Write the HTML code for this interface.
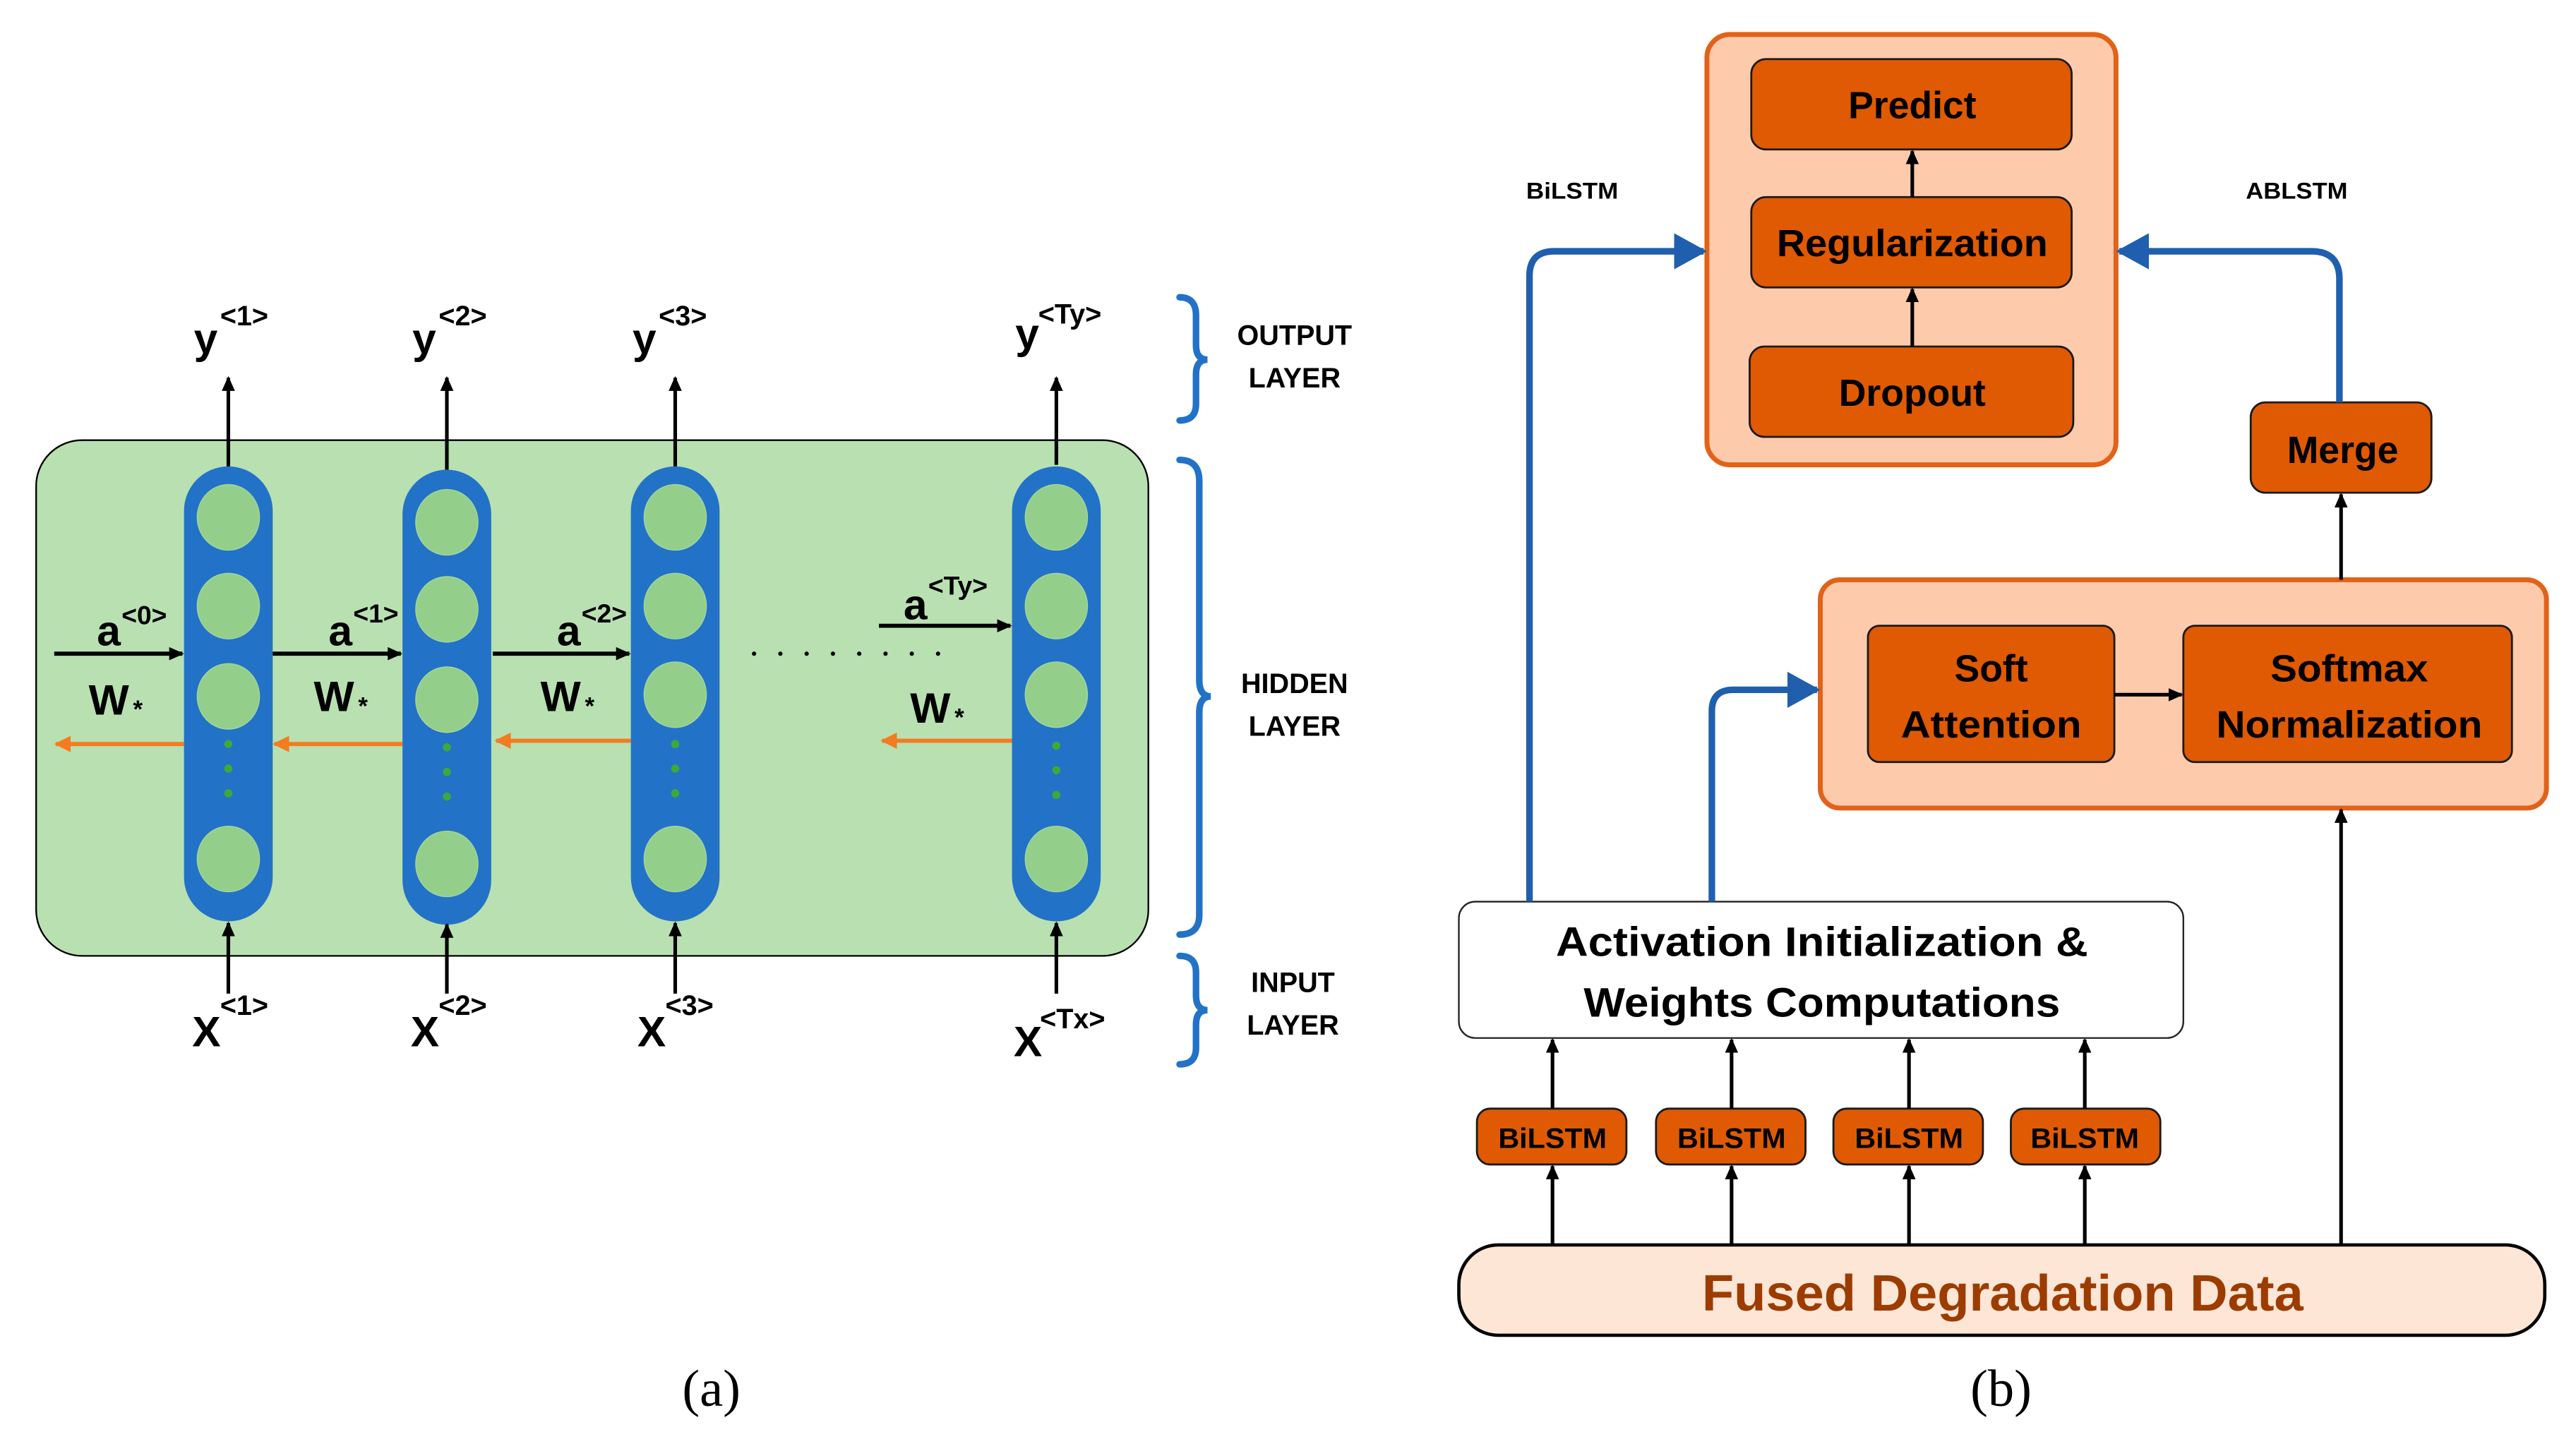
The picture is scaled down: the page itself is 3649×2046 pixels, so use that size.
<!DOCTYPE html>
<html><head><meta charset="utf-8"><style>
html,body{margin:0;padding:0;background:#fff;}
svg{display:block;}
text{font-family:"Liberation Sans",sans-serif;font-weight:bold;}
</style></head><body>
<svg width="3649" height="2046" viewBox="0 0 1568 879.2" preserveAspectRatio="none" xmlns="http://www.w3.org/2000/svg">
<defs>
<marker id="ab" markerWidth="10" markerHeight="10" refX="8" refY="5" orient="auto" markerUnits="userSpaceOnUse"><path d="M0,1 L9,5 L0,9 z" fill="#000"/></marker>
<marker id="ao" markerWidth="12" markerHeight="12" refX="9" refY="6" orient="auto" markerUnits="userSpaceOnUse"><path d="M0,1 L10,6 L0,11 z" fill="#f47b20"/></marker>
<marker id="abl" markerWidth="22" markerHeight="22" refX="18" refY="11" orient="auto" markerUnits="userSpaceOnUse"><path d="M0,0 L20,11 L0,22 z" fill="#1f5fae"/></marker>
</defs>

<rect x="22" y="268" width="677" height="314" rx="28" fill="#b9e0b1" stroke="#000" stroke-width="1"/>
<g>
<rect x="112" y="284" width="54" height="277" rx="27" fill="#2272c8"/>
<rect x="245" y="286" width="54" height="277" rx="27" fill="#2272c8"/>
<rect x="384" y="284" width="54" height="277" rx="27" fill="#2272c8"/>
<rect x="616" y="284" width="54" height="277" rx="27" fill="#2272c8"/>
</g>
<g fill="#93cf8b" stroke="#a8d8a0" stroke-width="0.5">
<ellipse cx="139" cy="315" rx="19" ry="20"/><ellipse cx="139" cy="369" rx="19" ry="20"/><ellipse cx="139" cy="424" rx="19" ry="20"/><ellipse cx="139" cy="523" rx="19" ry="20"/>
<ellipse cx="272" cy="318" rx="19" ry="20"/><ellipse cx="272" cy="371" rx="19" ry="20"/><ellipse cx="272" cy="426" rx="19" ry="20"/><ellipse cx="272" cy="526" rx="19" ry="20"/>
<ellipse cx="411" cy="315" rx="19" ry="20"/><ellipse cx="411" cy="369" rx="19" ry="20"/><ellipse cx="411" cy="423" rx="19" ry="20"/><ellipse cx="411" cy="523" rx="19" ry="20"/>
<ellipse cx="643" cy="315" rx="19" ry="20"/><ellipse cx="643" cy="369" rx="19" ry="20"/><ellipse cx="643" cy="423" rx="19" ry="20"/><ellipse cx="643" cy="523" rx="19" ry="20"/>
</g>
<g fill="#3ea83a">
<circle cx="139" cy="453" r="2.5"/><circle cx="139" cy="468" r="2.5"/><circle cx="139" cy="483" r="2.5"/>
<circle cx="272" cy="455" r="2.5"/><circle cx="272" cy="470" r="2.5"/><circle cx="272" cy="485" r="2.5"/>
<circle cx="411" cy="453" r="2.5"/><circle cx="411" cy="468" r="2.5"/><circle cx="411" cy="483" r="2.5"/>
<circle cx="643" cy="454" r="2.5"/><circle cx="643" cy="469" r="2.5"/><circle cx="643" cy="484" r="2.5"/>
</g>
<g stroke="#000" stroke-width="2.2" marker-end="url(#ab)">
<line x1="139" y1="284" x2="139" y2="230"/>
<line x1="272" y1="286" x2="272" y2="230"/>
<line x1="411" y1="284" x2="411" y2="230"/>
<line x1="643" y1="283" x2="643" y2="230"/>
<line x1="139" y1="605" x2="139" y2="562"/>
<line x1="272" y1="605" x2="272" y2="563"/>
<line x1="411" y1="605" x2="411" y2="562"/>
<line x1="643" y1="605" x2="643" y2="562"/>
</g>
<g stroke="#000" stroke-width="2.5" marker-end="url(#ab)">
<line x1="33" y1="398" x2="111" y2="398"/>
<line x1="166" y1="398" x2="244" y2="398"/>
<line x1="300" y1="398" x2="383" y2="398"/>
<line x1="535" y1="381" x2="615" y2="381"/>
</g>
<g stroke="#f47b20" stroke-width="2.5" marker-end="url(#ao)">
<line x1="112" y1="453" x2="34" y2="453"/>
<line x1="245" y1="453" x2="167" y2="453"/>
<line x1="384" y1="451" x2="302" y2="451"/>
<line x1="616" y1="451" x2="537" y2="451"/>
</g>
<g fill="#000">
<circle cx="459" cy="398" r="1.3"/><circle cx="475" cy="398" r="1.3"/><circle cx="491" cy="398" r="1.3"/><circle cx="507" cy="398" r="1.3"/><circle cx="523" cy="398" r="1.3"/><circle cx="539" cy="398" r="1.3"/><circle cx="555" cy="398" r="1.3"/><circle cx="571" cy="398" r="1.3"/>
</g>
<g font-size="26" fill="#000">
<text x="118" y="215">y</text><text x="134" y="198" font-size="17">&lt;1&gt;</text>
<text x="251" y="215">y</text><text x="267" y="198" font-size="17">&lt;2&gt;</text>
<text x="385" y="215">y</text><text x="401" y="198" font-size="17">&lt;3&gt;</text>
<text x="618" y="212">y</text><text x="632" y="197" font-size="17">&lt;Ty&gt;</text>
<text x="117" y="637">X</text><text x="134" y="618" font-size="17">&lt;1&gt;</text>
<text x="250" y="637">X</text><text x="267" y="618" font-size="17">&lt;2&gt;</text>
<text x="388" y="637">X</text><text x="405" y="618" font-size="17">&lt;3&gt;</text>
<text x="617" y="643">X</text><text x="633" y="626" font-size="17">&lt;Tx&gt;</text>
<text x="59" y="393">a</text><text x="74" y="380" font-size="16">&lt;0&gt;</text>
<text x="200" y="393">a</text><text x="215" y="379" font-size="16">&lt;1&gt;</text>
<text x="339" y="393">a</text><text x="354" y="379" font-size="16">&lt;2&gt;</text>
<text x="550" y="377">a</text><text x="565" y="362" font-size="16">&lt;Ty&gt;</text>
<text x="54" y="435">W</text><text x="81" y="437" font-size="15">*</text>
<text x="191" y="433">W</text><text x="218" y="435" font-size="15">*</text>
<text x="329" y="433">W</text><text x="356" y="435" font-size="15">*</text>
<text x="554" y="440">W</text><text x="581" y="442" font-size="15">*</text>
</g>
<g fill="none" stroke="#2272c8" stroke-width="4" stroke-linecap="round">
<path d="M718,181 Q728,181 728,192 L728,210 Q728,219 735,219 Q728,219 728,228 L728,246 Q728,256 718,256"/>
<path d="M718,280 Q730,280 730,293 L730,414 Q730,424 737,424 Q730,424 730,434 L730,557 Q730,569 718,569"/>
<path d="M718,582 Q728,582 728,592 L728,606 Q728,615 735,615 Q728,615 728,624 L728,638 Q728,648 718,648"/>
</g>
<g font-size="17" fill="#000" text-anchor="middle">
<text x="788" y="210">OUTPUT</text><text x="788" y="236">LAYER</text>
<text x="788" y="422">HIDDEN</text><text x="788" y="448">LAYER</text>
<text x="787" y="604">INPUT</text><text x="787" y="630">LAYER</text>
</g>
<text x="433" y="856" font-size="32" text-anchor="middle" style="font-family:'Liberation Serif',serif;font-weight:normal">(a)</text>
<text x="1218" y="856" font-size="32" text-anchor="middle" style="font-family:'Liberation Serif',serif;font-weight:normal">(b)</text>

<rect x="1039" y="21" width="249" height="262" rx="14" fill="#fdcbab" stroke="#e2621a" stroke-width="3"/>
<g fill="#df5a03" stroke="#1a1a1a" stroke-width="1.2">
<rect x="1066" y="36" width="195" height="55" rx="9"/>
<rect x="1066" y="120" width="195" height="55" rx="9"/>
<rect x="1065" y="211" width="197" height="55" rx="9"/>
<rect x="1370" y="245" width="110" height="55" rx="9"/>
<rect x="899" y="675" width="91" height="34" rx="8"/>
<rect x="1008" y="675" width="91" height="34" rx="8"/>
<rect x="1116" y="675" width="91" height="34" rx="8"/>
<rect x="1224" y="675" width="91" height="34" rx="8"/>
</g>
<rect x="1108" y="353" width="442" height="139" rx="12" fill="#fdcbab" stroke="#e2621a" stroke-width="3"/>
<g fill="#df5a03" stroke="#1a1a1a" stroke-width="1.2">
<rect x="1137" y="381" width="150" height="83" rx="7"/>
<rect x="1329" y="381" width="200" height="83" rx="7"/>
</g>
<rect x="888" y="549" width="441" height="83" rx="10" fill="#fff" stroke="#222" stroke-width="1"/>
<rect x="888" y="758" width="661" height="55" rx="24" fill="#fde6d6" stroke="#000" stroke-width="2"/>

<g stroke="#000" stroke-width="2.2" marker-end="url(#ab)">
<line x1="1164" y1="211" x2="1164" y2="176"/>
<line x1="1164" y1="120" x2="1164" y2="92"/>
<line x1="1287" y1="423" x2="1328" y2="423"/>
<line x1="1425" y1="353" x2="1425" y2="301"/>
<line x1="1425" y1="758" x2="1425" y2="493"/>
<line x1="945" y1="758" x2="945" y2="710"/><line x1="945" y1="675" x2="945" y2="633"/>
<line x1="1054" y1="758" x2="1054" y2="710"/><line x1="1054" y1="675" x2="1054" y2="633"/>
<line x1="1162" y1="758" x2="1162" y2="710"/><line x1="1162" y1="675" x2="1162" y2="633"/>
<line x1="1269" y1="758" x2="1269" y2="710"/><line x1="1269" y1="675" x2="1269" y2="633"/>
</g>
<g fill="none" stroke="#1f5fae" stroke-width="4" marker-end="url(#abl)">
<path d="M931,549 L931,168 Q931,153 946,153 L1037,153"/>
<path d="M1042,549 L1042,433 Q1042,420 1055,420 L1106,420"/>
<path d="M1424,245 L1424,170 Q1424,153 1407,153 L1290,153"/>
</g>

<g fill="#000" text-anchor="middle">
<text x="1164" y="72" font-size="23">Predict</text>
<text x="1164" y="156" font-size="23" textLength="165" lengthAdjust="spacingAndGlyphs">Regularization</text>
<text x="1164" y="247" font-size="23">Dropout</text>
<text x="1426" y="282" font-size="23">Merge</text>
<text x="1212" y="415" font-size="23">Soft</text>
<text x="1212" y="449" font-size="23" textLength="110" lengthAdjust="spacingAndGlyphs">Attention</text>
<text x="1430" y="415" font-size="23" textLength="96" lengthAdjust="spacingAndGlyphs">Softmax</text>
<text x="1430" y="449" font-size="23" textLength="162" lengthAdjust="spacingAndGlyphs">Normalization</text>
<text x="1109" y="582" font-size="25" textLength="324" lengthAdjust="spacingAndGlyphs">Activation Initialization &amp;</text>
<text x="1109" y="619" font-size="25" textLength="290" lengthAdjust="spacingAndGlyphs">Weights Computations</text>
<text x="945" y="699" font-size="17" textLength="66" lengthAdjust="spacingAndGlyphs">BiLSTM</text>
<text x="1054" y="699" font-size="17" textLength="66" lengthAdjust="spacingAndGlyphs">BiLSTM</text>
<text x="1162" y="699" font-size="17" textLength="66" lengthAdjust="spacingAndGlyphs">BiLSTM</text>
<text x="1269" y="699" font-size="17" textLength="66" lengthAdjust="spacingAndGlyphs">BiLSTM</text>
<text x="957" y="121" font-size="14" textLength="56" lengthAdjust="spacingAndGlyphs">BiLSTM</text>
<text x="1398" y="121" font-size="14" textLength="62" lengthAdjust="spacingAndGlyphs">ABLSTM</text>
<text x="1219" y="798" font-size="31" fill="#9c3c00" textLength="366" lengthAdjust="spacingAndGlyphs">Fused Degradation Data</text>
</g>
</svg>
</body></html>
